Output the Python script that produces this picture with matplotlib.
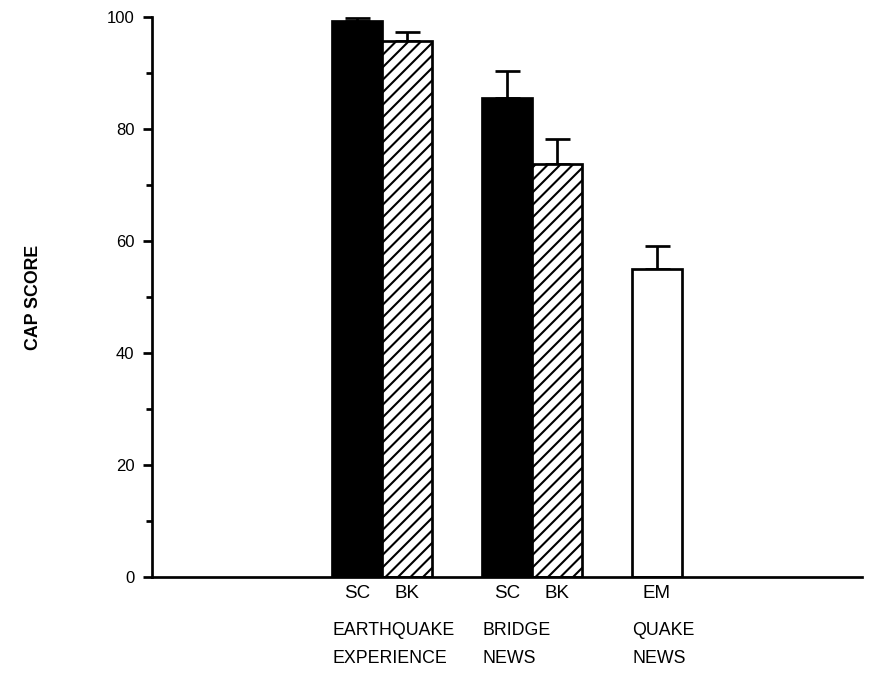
import matplotlib.pyplot as plt
import numpy as np

plt.rcParams['font.family'] = ['Liberation Sans', 'DejaVu Sans']

# data
groups = ['EARTHQUAKE\nEXPERIENCE', 'BRIDGE\nNEWS', 'QUAKE\nNEWS']
bar_labels = ['SC', 'BK', 'SC', 'BK', 'EM']
bar_group = [0, 0, 1, 1, 2]
scores = [99.2, 95.8, 85.6, 73.8, 55.0]
errors = [0.7, 1.6, 4.8, 4.4, 4.1]
kinds = ['solid', 'hatch', 'solid', 'hatch', 'open']

# layout
group_start = [3.6, 6.6, 9.6]
x = []
for i, g in enumerate(bar_group):
    first = bar_group.index(g)
    x.append(group_start[g] + 0.5 + (i - first) * 1.0)
x = np.array(x)

fig = plt.figure(figsize=(876 / 150, 673 / 150), dpi=150)
ax = fig.add_axes([152 / 876, 96 / 673, 710 / 876, 560 / 673])

lw = 1.3
plt.rcParams['hatch.linewidth'] = 1.0
for xi, s, k in zip(x, scores, kinds):
    if k == 'solid':
        ax.bar(xi, s, width=1.0, color='black', edgecolor='black', linewidth=lw, zorder=2)
    elif k == 'hatch':
        ax.bar(xi, s, width=1.0, color='white', edgecolor='black', hatch='////', linewidth=lw, zorder=2)
    else:
        ax.bar(xi, s, width=1.0, color='white', edgecolor='black', linewidth=lw, zorder=2)

ax.errorbar(x, scores, yerr=[np.zeros(len(errors)), errors], fmt='none',
            ecolor='black', elinewidth=lw, capsize=6, capthick=lw, zorder=1)

ax.set_xlim(0, 14.2)
ax.set_ylim(0, 100)
ax.spines['top'].set_visible(False)
ax.spines['right'].set_visible(False)
ax.spines['left'].set_linewidth(lw)
ax.spines['bottom'].set_linewidth(lw)

ax.set_yticks(np.arange(0, 101, 20))
ax.set_yticks(np.arange(10, 100, 20), minor=True)
ax.tick_params(axis='y', which='major', length=4.5, width=lw, labelsize=8, pad=4)
ax.tick_params(axis='y', which='minor', length=3, width=lw)

ax.set_xticks(x)
ax.set_xticklabels(bar_labels, fontsize=9)
ax.tick_params(axis='x', length=0, pad=4)

ax.set_ylabel('CAP SCORE', fontsize=8.5, fontweight='bold')
ax.yaxis.set_label_coords(-0.155, 0.5)

for g, name in enumerate(groups):
    ax.text(group_start[g], -0.08, name, transform=ax.get_xaxis_transform(),
            ha='left', va='top', fontsize=8.5, linespacing=1.85)

fig.savefig('out.png', dpi=150)
